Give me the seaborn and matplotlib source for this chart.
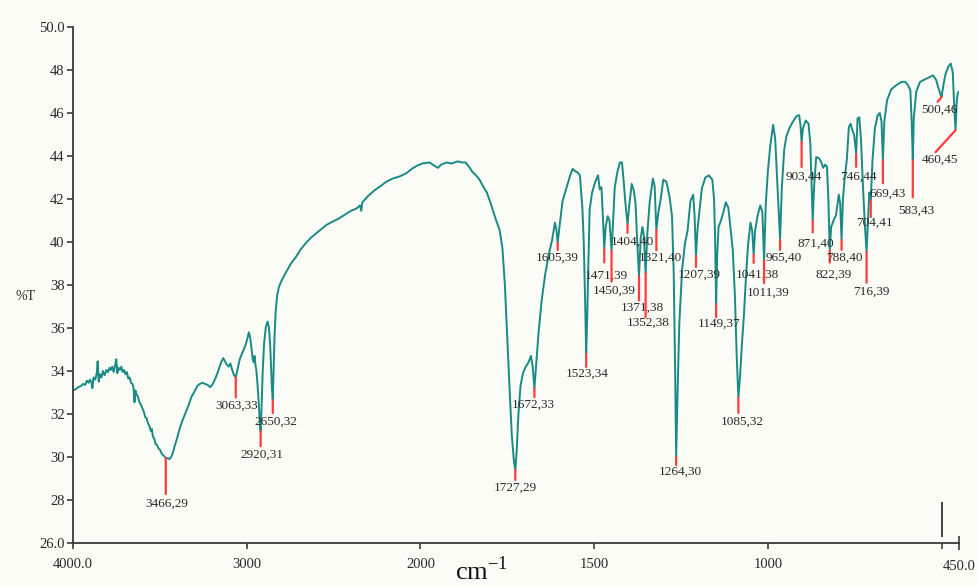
import numpy as np
import pandas as pd
import matplotlib
matplotlib.use("Agg")
import matplotlib.pyplot as plt
import seaborn as sns

# ---------------- data ----------------
wavenumber = [
    4000, 3985, 3970, 3955, 3942, 3930, 3920, 3910, 3903, 3895, 3888, 3882, 3872, 3863, 3858, 3852,
    3845, 3836, 3828, 3818, 3808, 3798, 3790, 3782, 3774, 3766, 3758, 3751, 3745, 3738, 3730, 3722,
    3714, 3706, 3698, 3690, 3682, 3674, 3666, 3658, 3652, 3646, 3641, 3634, 3626, 3618, 3610, 3600,
    3592, 3584, 3576, 3568, 3560, 3552, 3546, 3540, 3532, 3524, 3516, 3508, 3500, 3492, 3484, 3476,
    3466, 3455, 3445, 3435, 3425, 3415, 3400, 3385, 3370, 3355, 3335, 3318, 3300, 3285, 3270, 3255,
    3240, 3225, 3210, 3195, 3178, 3160, 3145, 3135, 3125, 3115, 3104, 3094, 3082, 3072, 3063, 3052,
    3040, 3028, 3017, 3005, 2995, 2988, 2980, 2972, 2965, 2960, 2955, 2950, 2945, 2938, 2930, 2924,
    2920, 2915, 2908, 2900, 2890, 2880, 2872, 2865, 2860, 2855, 2850, 2846, 2840, 2833, 2825, 2815,
    2805, 2790, 2770, 2745, 2717, 2690, 2660, 2630, 2601, 2570, 2540, 2505, 2468, 2430, 2400, 2370,
    2348, 2341, 2334, 2300, 2265, 2230, 2197, 2160, 2120, 2081, 2050, 2020, 1995, 1974, 1960, 1950,
    1940, 1925, 1910, 1893, 1880, 1870, 1858, 1850, 1840, 1830, 1820, 1809, 1800, 1792, 1782, 1772,
    1764, 1757, 1750, 1743, 1737, 1731, 1727, 1723, 1718, 1712, 1705, 1697, 1689, 1682, 1677, 1672,
    1667, 1660, 1651, 1641, 1631, 1621, 1613, 1609, 1605, 1600, 1591, 1580, 1570, 1562, 1555, 1549,
    1541, 1537, 1534, 1530, 1526, 1523, 1520, 1517, 1513, 1506, 1497, 1489, 1484, 1479, 1475, 1471,
    1467, 1461, 1456, 1450, 1446, 1441, 1434, 1426, 1420, 1415, 1410, 1404, 1399, 1392, 1386, 1381,
    1376, 1371, 1366, 1361, 1357, 1352, 1347, 1340, 1331, 1326, 1321, 1316, 1309, 1301, 1292, 1283,
    1276, 1271, 1267, 1264, 1260, 1255, 1247, 1239, 1231, 1223, 1215, 1211, 1207, 1203, 1198, 1190,
    1180, 1170, 1160, 1155, 1152, 1149, 1146, 1142, 1135, 1128, 1121, 1114, 1108, 1101, 1095, 1090,
    1085, 1080, 1075, 1069, 1063, 1057, 1050, 1045, 1041, 1037, 1030, 1022, 1016, 1011, 1006, 1000,
    993, 985, 979, 972, 965, 960, 953, 947, 938, 928, 918, 910, 906, 903, 899, 891,
    883, 878, 875, 871, 867, 861, 853, 846, 841, 835, 830, 826, 822, 818, 811, 804,
    796, 792, 788, 784, 779, 773, 767, 762, 758, 752, 746, 742, 737, 732, 727, 721,
    716, 712, 708, 704, 699, 692, 684, 678, 673, 669, 665, 657, 645, 630, 615, 605,
    597, 590, 586, 583, 580, 573, 562, 550, 537, 525, 516, 508, 503, 500, 496, 489,
    481, 474, 468, 464, 460, 457, 454, 450,
]
transmittance = [
    33.10, 33.15, 33.25, 33.30, 33.40, 33.35, 33.55, 33.45, 33.60, 33.50, 33.20, 33.70, 33.60, 33.90, 34.45, 33.50,
    33.85, 33.70, 34.00, 33.80, 34.05, 33.95, 34.15, 34.05, 34.20, 33.95, 34.25, 34.55, 33.90, 34.15, 34.05, 34.20,
    33.95, 34.05, 33.85, 33.95, 33.65, 33.70, 33.45, 33.40, 33.25, 32.55, 33.10, 32.90, 32.80, 32.55, 32.45, 32.25,
    32.10, 31.85, 31.80, 31.55, 31.45, 31.20, 31.30, 30.95, 30.85, 30.60, 30.55, 30.40, 30.35, 30.20, 30.10, 30.05,
    29.95, 29.95, 29.90, 30.00, 30.20, 30.50, 30.90, 31.35, 31.70, 32.00, 32.40, 32.80, 33.05, 33.30, 33.40, 33.45,
    33.40, 33.35, 33.25, 33.40, 33.70, 34.10, 34.45, 34.60, 34.45, 34.30, 34.20, 34.35, 34.00, 33.80, 33.70, 34.10,
    34.55, 34.80, 35.00, 35.25, 35.55, 35.80, 35.55, 35.00, 34.55, 34.40, 34.70, 34.30, 34.05, 33.40, 32.40, 31.50,
    31.20, 32.20, 34.00, 35.30, 36.05, 36.30, 36.00, 35.20, 34.20, 33.20, 32.65, 33.80, 35.60, 36.80, 37.50, 37.90,
    38.10, 38.35, 38.65, 39.00, 39.30, 39.65, 39.95, 40.20, 40.40, 40.60, 40.80, 40.95, 41.10, 41.30, 41.45, 41.55,
    41.70, 41.45, 41.85, 42.15, 42.40, 42.60, 42.80, 42.95, 43.05, 43.20, 43.40, 43.55, 43.65, 43.70, 43.55, 43.45,
    43.60, 43.70, 43.65, 43.75, 43.70, 43.70, 43.45, 43.25, 43.10, 42.90, 42.60, 42.30, 41.90, 41.50, 41.00, 40.55,
    39.70, 38.00, 35.50, 33.00, 31.00, 29.80, 29.40, 30.30, 32.00, 33.30, 33.90, 34.20, 34.40, 34.70, 34.20, 33.20,
    34.30, 35.80, 37.30, 38.50, 39.40, 40.10, 40.90, 40.60, 39.95, 40.70, 41.90, 42.50, 43.05, 43.40, 43.30, 43.25,
    43.10, 42.20, 41.60, 40.00, 37.20, 34.80, 36.50, 38.80, 41.50, 42.30, 42.80, 43.10, 42.45, 42.55, 41.20, 39.70,
    40.70, 41.20, 41.00, 39.60, 40.80, 42.50, 43.20, 43.70, 43.70, 42.80, 41.80, 40.80, 41.70, 42.70, 42.40, 41.80,
    40.00, 38.40, 40.20, 40.70, 40.30, 38.55, 40.40, 41.90, 42.95, 42.60, 40.55, 41.30, 41.95, 42.90, 42.80, 42.10,
    41.20, 38.50, 34.00, 30.00, 33.00, 36.20, 38.70, 39.90, 40.55, 41.90, 42.20, 41.20, 39.35, 40.50, 41.30, 42.50,
    43.00, 43.10, 42.90, 42.00, 40.20, 37.10, 39.40, 40.70, 41.00, 41.40, 41.85, 41.60, 40.70, 39.60, 37.50, 34.80,
    32.75, 33.80, 35.20, 36.60, 38.40, 39.90, 40.90, 40.50, 39.40, 40.50, 41.20, 41.70, 41.40, 39.15, 41.80, 43.30,
    44.50, 45.45, 44.80, 42.50, 40.10, 42.50, 44.30, 44.90, 45.30, 45.60, 45.85, 45.90, 45.40, 44.65, 45.30, 45.65,
    45.50, 44.60, 43.00, 41.00, 42.60, 43.95, 43.90, 43.70, 43.45, 43.60, 43.50, 42.00, 39.60, 40.70, 41.00, 41.25,
    42.20, 41.80, 40.10, 42.00, 43.00, 43.80, 45.35, 45.50, 45.25, 45.00, 44.10, 45.75, 45.80, 44.75, 42.80, 40.80,
    39.55, 41.00, 42.30, 41.95, 43.80, 45.30, 45.90, 46.00, 45.60, 43.80, 45.60, 46.60, 47.10, 47.30, 47.45, 47.45,
    47.30, 47.05, 45.50, 43.80, 45.80, 47.00, 47.45, 47.55, 47.65, 47.75, 47.55, 47.10, 46.85, 46.75, 47.20, 47.80,
    48.15, 48.30, 47.90, 46.40, 45.20, 46.40, 46.90, 47.00,
]

peak_wn = [3466, 3063, 2920, 2850, 1727, 1672, 1605, 1523, 1471, 1450, 1404, 1371, 1352, 1321, 1264, 1207,
           1149, 1085, 1041, 1011, 965, 903, 871, 822, 788, 746, 716, 704, 669, 583, 500, 460]
peak_text = ["3466,29", "3063,33", "2920,31", "2650,32", "1727,29", "1672,33", "1605,39", "1523,34",
             "1471,39", "1450,39", "1404,40", "1371,38", "1352,38", "1321,40", "1264,30", "1207,39",
             "1149,37", "1085,32", "1041,38", "1011,39", "965,40", "903,44", "871,40", "822,39",
             "788,40", "746,44", "716,39", "704,41", "669,43", "583,43", "500,46", "460,45"]

y_ticks = [26, 28, 30, 32, 34, 36, 38, 40, 42, 44, 46, 48, 50]
y_ticklabels = ["26.0", "28", "30", "32", "34", "36", "38", "40", "42", "44", "46", "48", "50.0"]
x_ticks = [4000, 3000, 2000, 1500, 1000, 500]
x_ticklabels = ["4000.0", "3000", "2000", "1500", "1000", ""]
x_end = [450]
x_end_label = ["450.0"]

# annotation layout (pixel offsets from the band minimum)
red_dx = [0, 0, 0, 0, 0, 0, 0, 0, 0, 0, 0, 0, 0, 0, 0, 0,
          0, 0, 0, 0, 0, 0, 0, 0, 0, 0, 0, 0, 0, 0, -4, -20]
red_len = [36, 20, 15, 13, 10, 9, 7, 13, 14, 31, 8, 24, 44, 20, 8, 11,
           13, 15, 8, 23, 10, 25, 12, 12, 10, 13, 31, 17, 23, 37, 5, 22]
lab_dx = [1, 1, 1, 3, 0, -1, 0, 1, 2, 3, 5, 3, 3, 4, 4, 3,
          3, 4, 4, 4, 4, 2, 3, 4, 3, 2, 5, 4, 5, 4, -2, -16]
lab_dy = [46, 28, 24, 22, 18, 17, 15, 20, 27, 40, 17, 31, 50, 28, 15, 19,
          19, 24, 20, 32, 18, 35, 23, 24, 18, 23, 40, 23, 33, 50, 13, 30]

# ---------------- style ----------------
sns.set_theme(style="ticks")
BG = "#fbfcf6"
LINE = "#1a8a84"
RED = "#ff3c3c"
TXT = "#2a2a2a"
AX = "#3a3a3a"
plt.rcParams["font.family"] = ["Liberation Serif", "DejaVu Serif"]
plt.rcParams["mathtext.fontset"] = "custom"
plt.rcParams["mathtext.rm"] = "Liberation Serif"

fig = plt.figure(figsize=(9.78, 5.86), dpi=100, facecolor=BG)
ax = fig.add_axes([73 / 978, 43 / 586, (959 - 73) / 978, (543 - 27) / 586])
ax.set_facecolor(BG)


def fwd(x):
    x = np.asarray(x, dtype=float)
    return np.where(x > 2000, 2000 + (x - 2000) / 2.0, x)


def inv(u):
    u = np.asarray(u, dtype=float)
    return np.where(u > 2000, 2000 + (u - 2000) * 2.0, u)


ax.set_xscale("function", functions=(fwd, inv))

df = pd.DataFrame({"wn": wavenumber, "T": transmittance})
sns.lineplot(data=df, x="wn", y="T", sort=False, estimator=None, color=LINE, lw=1.4, ax=ax)

ax.set_xlim(4000, 450)
ax.set_ylim(26, 50)

# peak markers and labels
for i, (w, t) in enumerate(zip(peak_wn, peak_text)):
    tmin = float(np.interp(w, wavenumber[::-1], transmittance[::-1]))
    ax.annotate("", xy=(w, tmin), xytext=(red_dx[i], -red_len[i]), textcoords="offset pixels",
                arrowprops=dict(arrowstyle="-", color=RED, lw=1.6, shrinkA=0, shrinkB=0))
    ax.annotate(t, xy=(w, tmin), xytext=(lab_dx[i], -lab_dy[i]), textcoords="offset pixels",
                ha="center", va="center", fontsize=9.5, color=TXT)

# small vertical marker above the 500 tick
ax.vlines(500, 26.3, 27.9, color="#222222", lw=1.2)

# axes styling
sns.despine(ax=ax, top=True, right=True)
for s in ["left", "bottom"]:
    ax.spines[s].set_color(AX)
    ax.spines[s].set_linewidth(1.3)
ax.set_yticks(y_ticks)
ax.set_yticklabels(y_ticklabels)
ax.set_xticks(x_ticks)
ax.set_xticklabels(x_ticklabels)
ax.set_xticks(x_end, minor=True)
ax.set_xticklabels(x_end_label, minor=True)
ax.tick_params(axis="y", which="major", direction="out", length=4, width=1.2, color=AX,
               labelsize=10.5, labelcolor=TXT, pad=2)
ax.tick_params(axis="x", which="major", direction="out", length=4, width=1.2, color=AX,
               labelsize=10.5, labelcolor=TXT, pad=7)
ax.tick_params(axis="x", which="minor", direction="inout", length=10, width=1.2, color=AX,
               labelsize=10.5, labelcolor=TXT, pad=7)
ax.tick_params(axis="y", which="minor", left=False)
ax.set_xlabel("")
ax.set_ylabel("")

fig.text(26 / 978, 1 - 296 / 586, "%T", ha="center", va="center", fontsize=10, color=TXT)
fig.text(482 / 978, 1 - 571 / 586, r"cm$^{\mathregular{-1}}$", ha="center", va="center",
         fontsize=19, color="#111111")

fig.savefig("out.png", dpi=100, facecolor=BG)
